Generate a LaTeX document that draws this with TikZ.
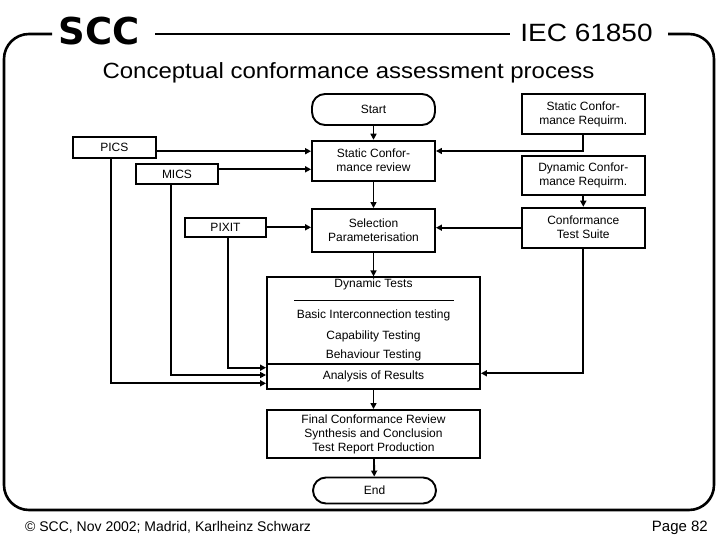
\documentclass[tikz,border=0pt]{standalone}
\usepackage{fontspec}
\setmainfont{Liberation Sans}
\newfontfamily\sccfont{DejaVu Sans}
\usetikzlibrary{arrows.meta,calc}
\begin{document}
\begin{tikzpicture}[x=1pt,y=-1pt,
  proc/.style={draw,line width=1.9pt,inner sep=0pt,align=center,font=\fontsize{12}{14}\selectfont},
  term/.style={proc,rounded corners=13pt},
  txt/.style={inner sep=0pt,align=center,font=\fontsize{12}{14}\selectfont},
  conn/.style={line width=1.9pt,-{Triangle[length=6pt,width=6pt]}},
  frame/.style={line width=2.6pt}]
\useasboundingbox (0,0) rectangle (720,540);
% frame
\draw[frame,rounded corners=25pt] (52,34) -- (4,34) -- (4,510) -- (714,510) -- (714,34) -- (668,34);
\draw[frame] (155,34) -- (510,34);
\node[anchor=base,inner sep=0pt,font=\sccfont\bfseries\fontsize{37}{40}\selectfont] (scc) at (99,45) {SCC};
\node[anchor=base,inner sep=0pt,font=\fontsize{25}{28}\selectfont,xscale=1.12] (iec) at (586.5,42) {IEC 61850};
\node[anchor=base,inner sep=0pt,font=\fontsize{22}{26}\selectfont,xscale=1.09] (title) at (348.5,79) {Conceptual conformance assessment process};
% main column
\node[term,minimum width=123pt,minimum height=31pt] (start) at (373.5,109.5) {Start};
\node[proc,minimum width=123pt,minimum height=40pt] (rev) at (373.5,160.7) {Static Confor-\\mance review};
\node[proc,minimum width=123pt,minimum height=43pt] (sel) at (373.5,230.5) {Selection\\Parameterisation};
\node[proc,minimum width=213pt,minimum height=86.7pt] (dyn) at (373.5,320.7) {};
\node[proc,minimum width=213pt,minimum height=25pt] (ana) at (373.5,376.5) {Analysis of Results};
\node[proc,minimum width=213pt,minimum height=48pt] (final) at (373.5,434) {Final Conformance Review\\Synthesis and Conclusion\\Test Report Production};
\node[term,minimum width=123pt,minimum height=26pt] (end) at (374.5,490.5) {End};
% dynamic test contents
\node[txt] (dt) at (373.5,284) {Dynamic Tests};
\coordinate (dl1) at (294,300);
\coordinate (dl2) at (454,300);
\draw[line width=0.9pt] (dl1) -- (dl2);
\node[txt] (bit) at (373.5,315.7) {Basic Interconnection testing};
\node[txt] (cap) at (373.5,336) {Capability Testing};
\node[txt] (beh) at (373.5,355.7) {Behaviour Testing};
% left inputs
\node[proc,minimum width=83pt,minimum height=21pt] (pics) at (114.4,147.7) {PICS};
\node[proc,minimum width=82.3pt,minimum height=20.3pt] (mics) at (177,174) {MICS};
\node[proc,minimum width=81pt,minimum height=19.3pt] (pixit) at (225.5,227.3) {PIXIT};
% right inputs
\node[proc,minimum width=123.3pt,minimum height=40pt] (sreq) at (583.3,114) {Static Confor-\\mance Requirm.};
\node[proc,minimum width=123.3pt,minimum height=39pt] (dreq) at (583.3,175.5) {Dynamic Confor-\\mance Requirm.};
\node[proc,minimum width=123.3pt,minimum height=40pt] (ts) at (583.3,227.7) {Conformance\\Test Suite};
% helper coordinates
\coordinate (xpics) at (110.7,0);
\coordinate (xmics) at (170.7,0);
\coordinate (xpixit) at (227.7,0);
\path (pics.east) ++(0,3.5) coordinate (pe);
\path (mics.east) ++(0,-4.7) coordinate (me);
\path (rev.east) ++(0,-9.7) coordinate (re);
\path (ana.west) ++(0,6.8) coordinate (apics);
\path (ana.west) ++(0,-1.5) coordinate (amics);
\path (ana.west) ++(0,-8.8) coordinate (apixit);
\path (ana.east) ++(0,-3.2) coordinate (ats);
% connectors main
\draw[conn] (start) -- (rev);
\draw[conn] (rev) -- (sel);
\draw[conn] (sel) -- (dyn);
\draw[conn] (ana) -- (final);
\draw[conn] (final) -- (end);
% left
\draw[conn] (pe) -- (pe -| rev.west);
\draw[conn] (me) -- (me -| rev.west);
\draw[conn] (pixit.east) -- (pixit.east -| sel.west);
\draw[conn] (pics.south -| xpics) |- (apics);
\draw[conn] (mics.south -| xmics) |- (amics);
\draw[conn] (pixit.south -| xpixit) |- (apixit);
% right
\draw[conn] (sreq.south) |- (re);
\draw[conn] (dreq) -- (ts);
\draw[conn] (ts.west) -- (ts.west -| sel.east);
\draw[conn] (ts.south) |- (ats);
% footer
\node[anchor=base west,inner sep=0pt,font=\fontsize{14}{17}\selectfont] (foot) at (25,531) {© SCC, Nov 2002; Madrid, Karlheinz Schwarz};
\node[anchor=base east,inner sep=0pt,font=\fontsize{15}{17}\selectfont] (page) at (708,531) {Page 82};
\end{tikzpicture}
\end{document}
